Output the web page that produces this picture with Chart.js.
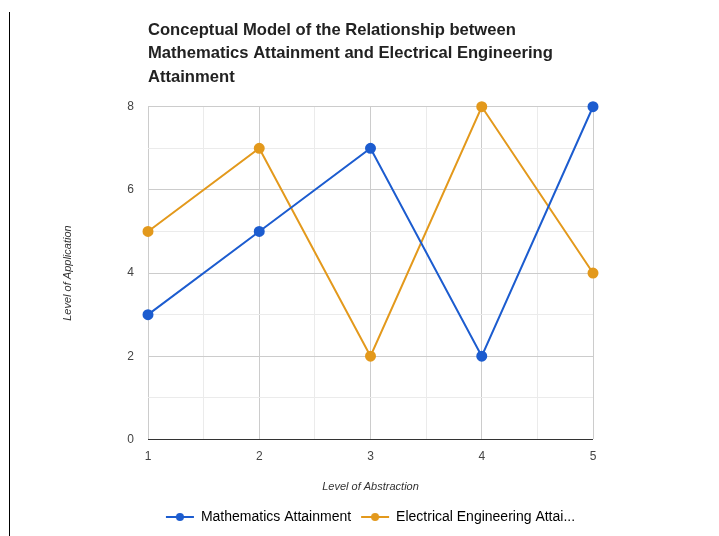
<!DOCTYPE html>
<html>
<head>
<meta charset="utf-8">
<script src="https://cdn.jsdelivr.net/npm/chart.js@4"></script>
<style>
  html, body { margin: 0; padding: 0; background: #fff; }
  #wrap { position: relative; width: 719px; height: 536px; }
  #edge { position: absolute; left: 9px; top: 12px; width: 1px; height: 524px; background: #000; }
</style>
</head>
<body>
<div id="wrap">
  <div id="edge"></div>
  <canvas id="myChart" width="719" height="536"></canvas>
</div>
<script>
const levels = [1, 2, 3, 4, 5];
const mathAttainment = [3, 5, 7, 2, 8];
const eeAttainment = [5, 7, 2, 8, 4];
const seriesNames = ['Mathematics Attainment', 'Electrical Engineering Attainment'];
const legendNames = ['Mathematics Attainment', 'Electrical Engineering Attai...'];
const titleLines = ['Conceptual Model of the Relationship between',
  'Mathematics Attainment and Electrical Engineering', 'Attainment'];

const blue = '#1c5ccf';
const orange = '#e3991c';

// legend marker: short line with a dot
function marker(color) {
    const c = document.createElement('canvas');
    c.width = 30; c.height = 10;
    const g = c.getContext('2d');
    g.strokeStyle = color; g.lineWidth = 2;
    g.beginPath(); g.moveTo(1, 5); g.lineTo(29, 5); g.stroke();
    g.fillStyle = color;
    g.beginPath(); g.arc(15, 5, 4, 0, Math.PI * 2); g.fill();
    return c;
}

const ctx = document.getElementById('myChart').getContext('2d');
new Chart(ctx, {
    type: 'line',
    data: {
        datasets: [{
            label: seriesNames[0],
            data: levels.map((x, i) => ({ x: x, y: mathAttainment[i] })),
            borderColor: blue,
            backgroundColor: blue,
            borderWidth: 2,
            pointRadius: 4.5,
            clip: false
        }, {
            label: seriesNames[1],
            data: levels.map((x, i) => ({ x: x, y: eeAttainment[i] })),
            borderColor: orange,
            backgroundColor: orange,
            borderWidth: 2,
            pointRadius: 4.5,
            clip: false
        }]
    },
    options: {
        responsive: false,
        animation: false,
        layout: { padding: { left: 55, right: 126, top: 19, bottom: 2 } },
        plugins: {
            title: {
                display: true,
                text: titleLines,
                align: 'start',
                fullSize: false,
                color: '#222',
                font: { family: 'Arial, "Liberation Sans"', size: 16.6, weight: 'bold', lineHeight: 1.4 },
                padding: { top: 0, bottom: 18 }
            },
            legend: {
                position: 'bottom',
                fullSize: false,
                labels: {
                    usePointStyle: true,
                    pointStyleWidth: 28,
                    boxHeight: 10,
                    padding: 10,
                    color: '#222',
                    font: { family: 'Arial, "Liberation Sans"', size: 14 },
                    generateLabels: chart => chart.data.datasets.map((ds, i) => ({
                        text: legendNames[i],
                        pointStyle: marker(ds.borderColor),
                        fillStyle: ds.borderColor,
                        strokeStyle: ds.borderColor,
                        lineWidth: 0,
                        datasetIndex: i
                    }))
                }
            },
            tooltip: { enabled: false }
        },
        scales: {
            x: {
                type: 'linear',
                min: 1,
                max: 5,
                ticks: {
                    stepSize: 0.5,
                    color: '#444',
                    padding: 10,
                    font: { family: 'Arial, "Liberation Sans"', size: 12 },
                    callback: v => (v % 1 === 0 ? v : '')
                },
                grid: {
                    drawTicks: false,
                    color: c => (c.tick && c.tick.value % 1 === 0 ? '#cccccc' : '#ebebeb')
                },
                border: { display: false },
                title: {
                    display: true,
                    text: 'Level of Abstraction',
                    color: '#333',
                    font: { family: 'Arial, "Liberation Sans"', size: 11, style: 'italic' },
                    padding: { top: 7, bottom: 6 }
                }
            },
            y: {
                min: 0,
                max: 8,
                afterFit: s => { s.width = 93; },
                ticks: {
                    stepSize: 1,
                    color: '#444',
                    padding: 14,
                    font: { family: 'Arial, "Liberation Sans"', size: 12 },
                    callback: v => (v % 2 === 0 ? v : '')
                },
                grid: {
                    drawTicks: false,
                    color: c => {
                        if (!c.tick) return '#ccc';
                        if (c.tick.value === 0) return '#333';
                        return c.tick.value % 2 === 0 ? '#cccccc' : '#ebebeb';
                    }
                },
                border: { display: false },
                title: {
                    display: true,
                    text: 'Level of Application',
                    color: '#333',
                    font: { family: 'Arial, "Liberation Sans"', size: 11, style: 'italic' },
                    padding: { top: 6, bottom: 0 }
                }
            }
        }
    }
});
</script>
</body>
</html>
